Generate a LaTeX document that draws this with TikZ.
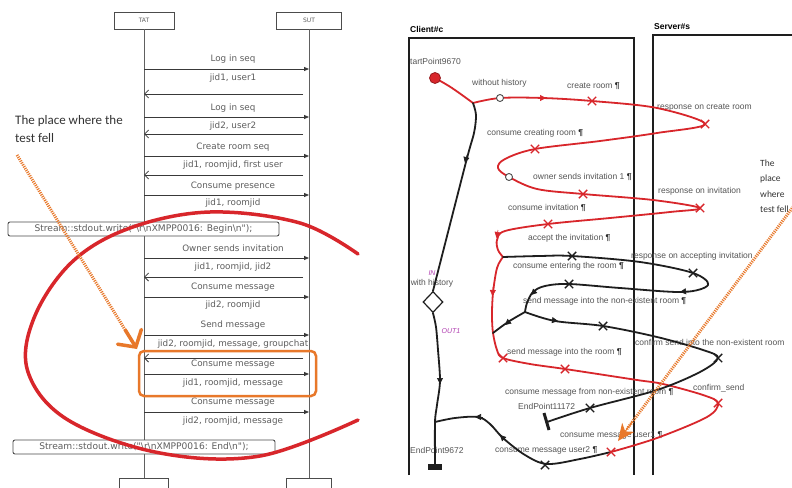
\documentclass[tikz,border=0pt]{standalone}
\usepackage{fontspec}
\setmainfont{Liberation Sans}
\newfontfamily\seqfont{DejaVu Sans}
\newfontfamily\lblfont{Liberation Sans}
\newfontfamily\calfont{Carlito}
\usetikzlibrary{arrows.meta,shapes.geometric,shapes.misc,calc}
\definecolor{redc}{HTML}{D8262B}
\definecolor{orng}{HTML}{E8782A}
\definecolor{blk}{HTML}{1E1E1E}
\definecolor{seqg}{HTML}{5E5E5E}
\definecolor{lblg}{HTML}{555555}
\definecolor{magc}{HTML}{B03CB0}
\newcommand\seqfw[4]{\draw[fwd] (144,#2) -- (309,#2);\node[msg] (#1) at (233,#3) {#4};}
\newcommand\seqrt[4]{\draw[ret] (303,#2) -- (144,#2);\node[msg] (#1) at (233,#3) {#4};}
\newcommand\seqtx[3]{\node[msg] (#1) at (233,#2) {#3};}
\newcommand\pil{\textcolor{black!85}{\textbf{¶}}}
\begin{document}
\begin{tikzpicture}[x=1pt,y=-1pt,
  life/.style={draw=gray!75!black,line width=0.8pt},
  hbox/.style={draw=gray!60!black,line width=0.9pt,fill=white,minimum height=17pt,inner sep=1pt,font=\seqfont\fontsize{6}{7}\selectfont,text=seqg},
  sbox/.style={draw=gray!60!black,line width=0.9pt,fill=white,rounded corners=2pt,minimum height=14pt,inner sep=1pt,font=\seqfont\fontsize{9.1}{10}\selectfont,text=seqg},
  msg/.style={font=\seqfont\fontsize{8.8}{10}\selectfont,text=seqg,inner sep=0pt},
  fwd/.style={draw=gray!45!black,line width=0.8pt,-{Triangle[length=5pt,width=4pt]}},
  ret/.style={draw=gray!45!black,line width=0.8pt,-{Straight Barb[length=4pt,width=8pt]}},
  redp/.style={draw=redc,line width=1.8pt,line cap=round,line join=round},
  blkp/.style={draw=blk,line width=1.8pt,line cap=round,line join=round},
  xr/.style={cross out,draw=redc,line width=1.4pt,minimum size=7pt,inner sep=0pt},
  xb/.style={cross out,draw=blk,line width=1.4pt,minimum size=7pt,inner sep=0pt},
  wc/.style={circle,draw=gray!60!black,fill=white,line width=0.9pt,minimum size=7pt,inner sep=0pt},
  amR/.style={draw=redc,line width=0.6pt,-{Triangle[length=6pt,width=6pt]}},
  amB/.style={draw=blk,line width=0.6pt,-{Triangle[length=6pt,width=6pt]}},
  lbl/.style={font=\lblfont\fontsize{8.5}{9}\selectfont,text=lblg,inner sep=0pt,anchor=west},
  mag/.style={font=\lblfont\itshape\fontsize{7}{8}\selectfont,text=magc,inner sep=0pt},
  frame/.style={draw=blk,line width=1.8pt},
  odot/.style={draw=orng,line width=3pt,dash pattern=on 1.1pt off 1.1pt},
  barbo/.style={draw=orng,line width=3.5pt,-{Straight Barb[length=12pt,width=28pt,line cap=round]}},
  stealo/.style={draw=orng,line width=1pt,-{Stealth[length=17pt,width=15pt,inset=5pt]},fill=orng},
  note/.style={font=\calfont,text=black!80,inner sep=0pt,anchor=west}
]
\useasboundingbox (0,0) rectangle (792,487);
\clip (0,0) rectangle (792,487);
\fill[white] (0,0) rectangle (792,487);

% ================= LEFT: sequence diagram =================
\node[hbox,minimum width=60pt] (tat) at (144,20.5) {TAT};
\node[hbox,minimum width=65pt] (sut) at (309,20.5) {SUT};
\coordinate (tatend) at (144,478);
\coordinate (sutend) at (309,478);
\draw[life] (tat.south) -- (tatend);
\draw[life] (sut.south) -- (sutend);
\node[hbox,minimum width=49pt,anchor=north] (tatfoot) at (tatend) {};
\node[hbox,minimum width=45pt,anchor=north] (sutfoot) at (sutend) {};

\seqfw{m1}{69}{59}{Log in seq}
\seqrt{m2}{94}{78}{jid1, user1}
\seqfw{m3}{117}{108}{Log in seq}
\seqrt{m4}{134}{126}{jid2, user2}
\seqfw{m5}{156}{147}{Create room seq}
\seqrt{m6}{175}{165}{jid1, roomjid, first user}
\seqfw{m7}{195}{186}{Consume presence}
\seqtx{m8}{203}{jid1, roomjid}
\node[sbox,minimum width=271pt] (sbegin) at (143.5,229) {Stream::stdout.write("\textbackslash r\textbackslash nXMPP0016: Begin\textbackslash n");};
\seqfw{m9}{258}{248}{Owner sends invitation}
\seqrt{m10}{277}{267}{jid1, roomjid, jid2}
\seqfw{m11}{297}{287}{Consume message}
\seqtx{m12}{305}{jid2, roomjid}
\seqfw{m13}{335}{325}{Send message}
\seqrt{m14}{358}{344}{jid2, roomjid, message, groupchat}
\seqfw{m15}{374}{364}{Consume message}
\seqtx{m16}{383}{jid1, roomjid, message}
\seqfw{m17}{412}{402}{Consume message}
\seqtx{m18}{421}{jid2, roomjid, message}
\node[sbox,minimum width=262pt] (send) at (144,447) {Stream::stdout.write("\textbackslash r\textbackslash nXMPP0016: End\textbackslash n");};

\node[draw=orng,line width=2.5pt,rounded corners=5pt,minimum width=177pt,minimum height=45pt] (failbox) at (227.5,373.5) {};

% big red ellipse
\draw[draw=redc,line width=3.5pt,line cap=round] plot[smooth,tension=0.6] coordinates {(358,254) (300,223) (210,212) (130,228) (72,262) (34,318) (28,372) (68,420) (160,453) (260,456) (358,420)};

% note + orange arrow
\node[note,font=\calfont\fontsize{13}{15}\selectfont] (note1) at (15,121) {The place where the};
\node[note,font=\calfont\fontsize{13}{15}\selectfont] (note2) at (15,138) {test fell};
\coordinate (o1s) at (17,155);
\coordinate (o1e) at (137,349);
\draw[odot] (o1s) -- ($(o1s)!0.96!(o1e)$);
\draw[barbo] ($(o1s)!0.9!(o1e)$) -- (o1e);

% ================= RIGHT: state diagram =================
\node[font=\lblfont\bfseries\fontsize{8.5}{9}\selectfont,anchor=west,inner sep=0pt] (client) at (410,29) {Client\#c};
\node[font=\lblfont\bfseries\fontsize{8.5}{9}\selectfont,anchor=west,inner sep=0pt] (server) at (654,27) {Server\#s};
\draw[frame] (409,475) -- (409,38) -- (634,38) -- (634,475);
\draw[frame] (653,475) -- (653,35) -- (800,35);

% labels
\node[lbl] (l0) at (410,61) {tartPoint9670};
\node[lbl] (l1) at (472,83) {without history};
\node[lbl] (l2) at (567,86) {create room \pil};
\node[lbl] (l3) at (657,108) {response on create room};
\node[lbl] (l4) at (487,133) {consume creating room \pil};
\node[lbl] (l5) at (533,177) {owner sends invitation 1 \pil};
\node[lbl] (l6) at (658,191) {response on invitation};
\node[lbl] (l7) at (508,208) {consume invitation \pil};
\node[lbl] (l8) at (528,238) {accept the invitation \pil};
\node[lbl] (l9) at (631,256) {response on accepting invitation};
\node[lbl] (l10) at (513,266) {consume entering the room \pil};
\node[lbl] (l11) at (523,301) {send message into the non-existent room \pil};
\node[lbl] (l12) at (635,342) {confirm send into the non-existent room};
\node[lbl] (l13) at (507,352) {send message into the room \pil};
\node[lbl] (l14) at (693,388) {confirm\_send};
\node[lbl] (l15) at (505,392) {consume message from non-existent room \pil};
\node[lbl] (l16) at (518,406) {EndPoint11172};
\node[lbl] (l17) at (560,435) {consume message user1 \pil};
\node[lbl] (l18) at (495,450) {consume message user2 \pil};
\node[lbl] (l19) at (410,450) {EndPoint9672};
\node[lbl,anchor=center] (l20) at (432,283) {with history};
\node[mag] (in) at (432,273) {IN};
\node[mag] (out1) at (451,331) {OUT1};

% key points
\coordinate (S) at (435,78);
\coordinate (J1) at (473,103);
\coordinate (J2) at (503,257);
\coordinate (J3) at (493,333);
\coordinate (J4) at (525,312);
\coordinate (J5) at (435,422);
\coordinate (E1) at (435,466);
\coordinate (E2) at (547,422);
\coordinate (M) at (611,452);
\node[diamond,draw=blk,fill=white,line width=1.2pt,minimum width=20pt,minimum height=21pt,inner sep=0pt] (dia) at (433,302) {};

% red paths
\draw[redp] plot[smooth,tension=0.6] coordinates {(S) (452,88) (J1)};
\draw[redp] plot[smooth,tension=0.55] coordinates {(J1) (500,98) (543,98) (592,101) (657,108) (705,124) (657,133) (600,141) (535,149) (505,159) (498,168) (509,177) (537,189) (583,194) (653,200) (700,208) (670,212) (610,218) (548,224) (505,231) (497,240) (498,250) (J2)};
\draw[redp] plot[smooth,tension=0.55] coordinates {(J2) (497,268) (493,293) (492,315) (J3) (497,350) (503,358) (530,364) (565,369) (637,380) (663,384) (703,395) (718,403) (707,417) (657,438) (M)};

% black paths
\draw[blkp] plot[smooth,tension=0.5] coordinates {(J1) (476,115) (474,133) (466,162) (dia.north)};
\draw[blkp] plot[smooth,tension=0.5] coordinates {(dia.south) (436,327) (438,350) (440,381) (437,405) (J5) (E1)};
\draw[blkp] plot[smooth,tension=0.55] coordinates {(J2) (540,256) (572,256) (640,262) (693,273) (708,285) (683,292) (620,288) (569,284) (545,286) (533,292) (527,303) (J4)};
\draw[blkp] plot[smooth,tension=0.6] coordinates {(J4) (508,322) (J3)};
\draw[blkp] plot[smooth,tension=0.55] coordinates {(J4) (555,321) (603,326) (657,337) (703,350) (718,358) (700,372) (657,390) (590,408) (E2)};
\draw[blkp] plot[smooth,tension=0.55] coordinates {(M) (580,459) (547,464) (525,455) (503,438) (490,424) (478,417) (455,418) (J5)};

% end bars
\fill[blk] (428,464) rectangle (442,470);
\draw[blk,line width=3pt] (544,413) -- (549,430);

% start dot, circles
\node[circle,fill=redc,draw=redc!70!black,line width=0.8pt,minimum size=11pt,inner sep=0pt] (start) at (S) {};
\node[wc] (c1) at (500,98) {};
\node[wc] (c2) at (509,177) {};

% crosses
\foreach \p in {(592,101),(705,124),(535,149),(583,194),(700,208),(548,224),(503,358),(565,369),(718,403),(M)} \node[xr] at \p {};
\foreach \p in {(572,256),(693,273),(569,284),(603,326),(718,358),(590,408),(545,465)} \node[xb] at \p {};

% arrow marks
\draw[amR] (539,98) -- (546,98);
\draw[amR] (498,230) -- (496.5,238);
\draw[amR] (493,287) -- (492.5,296);
\draw[amB] (467,155) -- (465,163);
\draw[amB] (440,376) -- (440,384);
\draw[amB] (688,291) -- (680,292);
\draw[amB] (537,289) -- (531,295);
\draw[amB] (512,319) -- (505,325);
\draw[amB] (551,320) -- (558,321);
\draw[amB] (483,417) -- (475,417);
\draw[amB] (507,442) -- (500,435);

% right note and arrow
\node[note,font=\calfont\fontsize{9.5}{11}\selectfont] (n1) at (760,163) {The};
\node[note,font=\calfont\fontsize{9.5}{11}\selectfont] (n2) at (760,179) {place};
\node[note,font=\calfont\fontsize{9.5}{11}\selectfont] (n3) at (760,194) {where};
\node[note,font=\calfont\fontsize{9.5}{11}\selectfont] (n4) at (760,209) {test fell};
\coordinate (o2s) at (796,203);
\coordinate (o2e) at (618,441);
\draw[odot] (o2s) -- ($(o2s)!0.95!(o2e)$);
\draw[stealo] ($(o2s)!0.92!(o2e)$) -- (o2e);
\end{tikzpicture}
\end{document}
